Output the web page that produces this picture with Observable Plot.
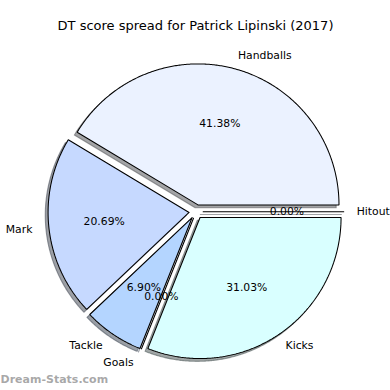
<!DOCTYPE html>
<html>
<head>
<meta charset="utf-8">
<script src="https://cdn.jsdelivr.net/npm/d3@7"></script>
<script src="https://cdn.jsdelivr.net/npm/@observablehq/plot@0.6"></script>
<style>
  html, body { margin: 0; padding: 0; background: #fff; }
  #chart svg { display: block; font-family: "DejaVu Sans", sans-serif; }
</style>
</head>
<body>
<div id="chart"></div>
<script>
// ---- data ----
const title = "DT score spread for Patrick Lipinski (2017)";
const watermark = "Dream-Stats.com";
const categories = ["Handballs", "Mark", "Tackle", "Goals", "Kicks", "Hitout"];
const values = [12, 6, 2, 0, 9, 0];
const colors = ["#EBF2FF", "#C6D9FF", "#B4D5FF", "#ADC6FF", "#D9FFFF", "#E0F0FF"];

// ---- pie layout (matplotlib style: start at 0°, counter-clockwise) ----
const explode = 0.05, labelDist = 1.1, pctDist = 0.6, shadowOff = 0.02;
const total = d3.sum(values);
let acc = 0;
const slices = categories.map((name, i) => {
  const t1 = acc / total * 360;
  acc += values[i];
  const t2 = acc / total * 360;
  const mid = (t1 + t2) / 2 * Math.PI / 180;
  const ox = explode * Math.cos(mid), oy = explode * Math.sin(mid);
  return {name, value: values[i], color: colors[i], t1, t2, mid, ox, oy,
          pct: (values[i] / total * 100).toFixed(2) + "%"};
});

function darker(c) {
  const r = d3.rgb(c);
  return d3.rgb(r.r * 0.3, r.g * 0.3, r.b * 0.3).formatHex();
}

const poly = [];
const shadow = [];
for (const s of slices) {
  const pts = [[s.ox, s.oy]];
  const n = Math.max(1, Math.ceil((s.t2 - s.t1) / 0.5));
  for (let k = 0; k <= n; k++) {
    const a = (s.t1 + (s.t2 - s.t1) * k / n) * Math.PI / 180;
    pts.push([s.ox + Math.cos(a), s.oy + Math.sin(a)]);
  }
  pts.push([s.ox, s.oy]);
  pts.forEach(([x, y], j) => {
    poly.push({name: s.name, x, y, color: s.color, j});
    shadow.push({name: s.name, x: x - shadowOff, y: y - shadowOff, color: darker(s.color), j});
  });
}

const labels = slices.map(s => {
  const x = s.ox + labelDist * Math.cos(s.mid);
  const y = s.oy + labelDist * Math.sin(s.mid);
  return {x, y, text: s.name, right: x > 0};
});
const pcts = slices.map(s => ({
  x: s.ox + pctDist * Math.cos(s.mid),
  y: s.oy + pctDist * Math.sin(s.mid),
  text: s.pct
}));

// ---- scales: 1 unit = 141 px, centre at (195.6, 211.2) ----
const W = 390, H = 390, R = 141, CX = 195.6, CY = 211.2;

const chart = Plot.plot({
  width: W, height: H,
  margin: 0,
  x: {domain: [-CX / R, (W - CX) / R], axis: null},
  y: {domain: [-(H - CY) / R, CY / R], axis: null},
  color: {type: "identity"},
  style: {fontFamily: "DejaVu Sans, sans-serif", background: "#fff"},
  marks: [
    Plot.line(shadow, {x: "x", y: "y", z: "name", fill: "color", stroke: "color",
      fillOpacity: 0.5, strokeOpacity: 0.5, strokeWidth: 1.1, curve: "linear"}),
    Plot.line(poly, {x: "x", y: "y", z: "name", fill: "color", stroke: "#000",
      strokeWidth: 1.05, strokeLinejoin: "miter", curve: "linear"}),
    Plot.text(labels.filter(d => d.right), {x: "x", y: "y", text: "text", textAnchor: "start",
      dx: -1.5, fontSize: 10.8, fill: "#000", lineAnchor: "middle"}),
    Plot.text(labels.filter(d => !d.right), {x: "x", y: "y", text: "text", textAnchor: "end",
      dx: -2.5, fontSize: 10.8, fill: "#000", lineAnchor: "middle"}),
    Plot.text(pcts, {x: "x", y: "y", text: "text", textAnchor: "middle",
      dx: -0.8, fontSize: 10.8, fill: "#000", lineAnchor: "middle"}),
    Plot.text([title], {frameAnchor: "top", text: d => d, dy: 25, fontSize: 13,
      fill: "#000", lineAnchor: "middle"}),
    Plot.text([watermark], {frameAnchor: "bottom-left", text: d => d, dx: 0, dy: -11,
      fontSize: 11, fontWeight: "bold", fill: "#999", fillOpacity: 0.85,
      textAnchor: "start", lineAnchor: "middle"})
  ]
});
document.getElementById("chart").appendChild(chart);
</script>
</body>
</html>
